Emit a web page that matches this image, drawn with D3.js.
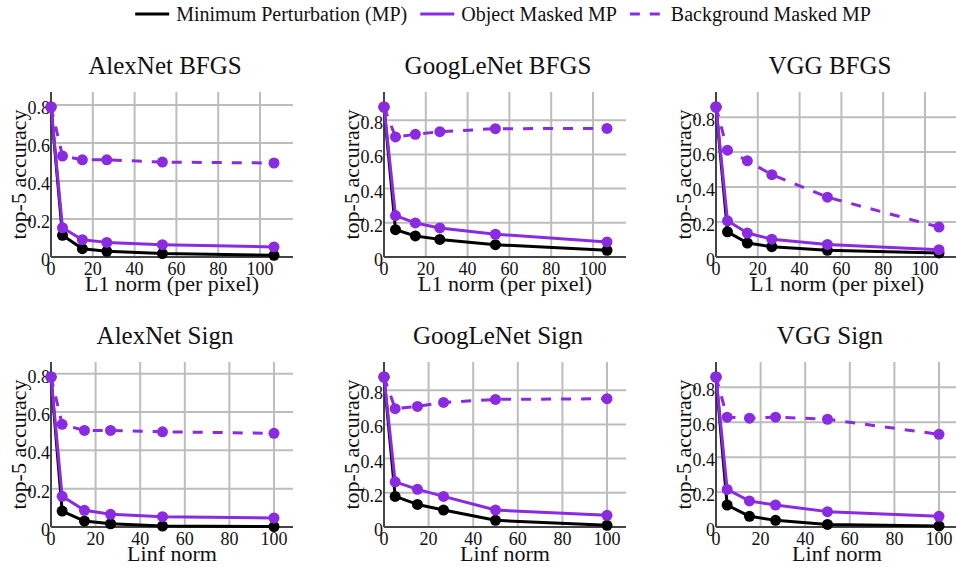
<!DOCTYPE html>
<html><head><meta charset="utf-8">
<script src="https://cdn.jsdelivr.net/npm/d3@7"></script>
<style>
html,body{margin:0;padding:0;background:#fff;}
</style></head>
<body><svg id="chart" width="956" height="567" font-family="'Liberation Serif', 'DejaVu Serif', serif"></svg>
<script>
// ---- data ----
const seriesNames = ["Minimum Perturbation (MP)", "Object Masked MP", "Background Masked MP"];
const seriesColors = ["#000000", "#8a2be2", "#8a2be2"];
const seriesDash = [null, null, "10,10"];

const xL1 = [0, 5.5, 15, 26.7, 53.3, 106.7];
const xLinf = [0, 5, 15, 26.7, 50, 100];

const panelTitles = ["AlexNet BFGS", "GoogLeNet BFGS", "VGG BFGS", "AlexNet Sign", "GoogLeNet Sign", "VGG Sign"];
const xAxisTitles = ["L1 norm (per pixel)", "Linf norm"];
const yAxisTitle = "top-5 accuracy";
const xTickValues = [0, 20, 40, 60, 80, 100];
const yTickValues = [0, 0.2, 0.4, 0.6, 0.8];

const alexBfgsMP  = [0.79, 0.114, 0.044, 0.030, 0.018, 0.009];
const alexBfgsObj = [0.79, 0.154, 0.091, 0.077, 0.065, 0.053];
const alexBfgsBg  = [0.79, 0.532, 0.512, 0.512, 0.500, 0.495];

const googBfgsMP  = [0.877, 0.160, 0.123, 0.103, 0.072, 0.039];
const googBfgsObj = [0.877, 0.242, 0.199, 0.170, 0.133, 0.088];
const googBfgsBg  = [0.877, 0.702, 0.717, 0.733, 0.750, 0.752];

const vggBfgsMP  = [0.858, 0.144, 0.080, 0.059, 0.038, 0.023];
const vggBfgsObj = [0.858, 0.207, 0.137, 0.102, 0.072, 0.042];
const vggBfgsBg  = [0.858, 0.611, 0.550, 0.471, 0.342, 0.171];

const alexSignMP  = [0.783, 0.083, 0.031, 0.017, 0.005, 0.002];
const alexSignObj = [0.783, 0.160, 0.087, 0.066, 0.054, 0.047];
const alexSignBg  = [0.783, 0.536, 0.504, 0.504, 0.497, 0.489];

const googSignMP  = [0.877, 0.179, 0.132, 0.099, 0.039, 0.010];
const googSignObj = [0.877, 0.264, 0.220, 0.179, 0.099, 0.068];
const googSignBg  = [0.877, 0.692, 0.705, 0.728, 0.746, 0.750];

const vggSignMP  = [0.859, 0.126, 0.061, 0.038, 0.015, 0.006];
const vggSignObj = [0.859, 0.215, 0.149, 0.126, 0.088, 0.061];
const vggSignBg  = [0.859, 0.629, 0.623, 0.629, 0.617, 0.531];

const panelData = [
  [alexBfgsMP, alexBfgsObj, alexBfgsBg],
  [googBfgsMP, googBfgsObj, googBfgsBg],
  [vggBfgsMP, vggBfgsObj, vggBfgsBg],
  [alexSignMP, alexSignObj, alexSignBg],
  [googSignMP, googSignObj, googSignBg],
  [vggSignMP, vggSignObj, vggSignBg]
];

// ---- layout ----
const svg = d3.select("#chart");
svg.append("rect").attr("width", 956).attr("height", 567).attr("fill", "#fff");

const colLeft = [51, 384, 716];
const rowTop = [92, 362];
const plotW = 242, plotH = 165;
const padPx = 15;
const textColor = "#111";

panelTitles.forEach((title, i) => {
  const col = i % 3, row = Math.floor(i / 3);
  const xs = row === 0 ? xL1 : xLinf;
  const series = panelData[i];
  const left = colLeft[col], top = rowTop[row];
  const xMax = d3.max(xs), yMax = d3.max(series.flat());
  const x = d3.scaleLinear().domain([0, xMax * plotW / (plotW - 19)]).range([left, left + plotW]);
  const y = d3.scaleLinear().domain([0, yMax * plotH / (plotH - padPx)]).range([top + plotH, top]);
  const g = svg.append("g");

  // gridlines
  g.selectAll(".gx").data(xTickValues.filter(v => v > 0)).join("line")
    .attr("x1", d => x(d)).attr("x2", d => x(d)).attr("y1", top).attr("y2", top + plotH)
    .attr("stroke", "#bdbdbd").attr("stroke-width", 2);
  g.selectAll(".gy").data(yTickValues.filter(v => v > 0)).join("line")
    .attr("y1", d => y(d)).attr("y2", d => y(d)).attr("x1", left).attr("x2", left + plotW)
    .attr("stroke", "#bdbdbd").attr("stroke-width", 2);

  // axes lines
  g.append("line").attr("x1", left).attr("x2", left).attr("y1", top).attr("y2", top + plotH)
    .attr("stroke", "#444").attr("stroke-width", 2);
  g.append("line").attr("x1", left).attr("x2", left + plotW).attr("y1", top + plotH).attr("y2", top + plotH)
    .attr("stroke", "#444").attr("stroke-width", 2);

  // tick labels
  g.selectAll(".ty").data(yTickValues).join("text")
    .attr("x", left - 1).attr("y", d => y(d) + 9)
    .attr("text-anchor", "end").attr("font-size", 18).attr("fill", textColor)
    .text(d => d === 0 ? "0" : d3.format(".1f")(d));
  g.selectAll(".tx").data(xTickValues).join("text")
    .attr("x", d => x(d)).attr("y", top + plotH + 18)
    .attr("text-anchor", "middle").attr("font-size", 18).attr("fill", textColor)
    .text(d => d);

  // series
  const line = d3.line().x((d, j) => x(xs[j])).y(d => y(d));
  series.forEach((vals, s) => {
    const sg = g.append("g");
    sg.append("path").attr("d", line(vals)).attr("fill", "none")
      .attr("stroke", seriesColors[s]).attr("stroke-width", 3)
      .attr("stroke-linejoin", "round")
      .attr("stroke-dasharray", seriesDash[s]);
    sg.selectAll("circle").data(vals).join("circle")
      .attr("cx", (d, j) => x(xs[j])).attr("cy", d => y(d)).attr("r", 5.5)
      .attr("fill", seriesColors[s]);
  });

  // titles
  g.append("text").attr("x", left + plotW / 2 - 7).attr("y", top - 18)
    .attr("text-anchor", "middle").attr("font-size", 25).attr("fill", textColor).text(title);
  g.append("text").attr("x", left + plotW / 2).attr("y", top + plotH + 34)
    .attr("text-anchor", "middle").attr("font-size", 22).attr("fill", textColor).text(xAxisTitles[row]);
  g.append("text").attr("transform", `translate(${left - 25},${top + plotH / 2}) rotate(-90)`)
    .attr("text-anchor", "middle").attr("font-size", 22).attr("fill", textColor).text(yAxisTitle);
});

// ---- legend ----
const legend = svg.append("g");
const items = [];
seriesNames.forEach((name, s) => {
  const ig = legend.append("g");
  ig.append("line").attr("x1", 0).attr("x2", 34).attr("y1", 14).attr("y2", 14)
    .attr("stroke", seriesColors[s]).attr("stroke-width", 3)
    .attr("stroke-dasharray", seriesDash[s]);
  const t = ig.append("text").attr("x", 41).attr("y", 21).attr("font-size", 20)
    .attr("fill", textColor).text(name);
  items.push({ g: ig, w: 41 + t.node().getComputedTextLength() });
});
const gap = 13;
const total = d3.sum(items, d => d.w) + gap * (items.length - 1);
let cx = 503 - total / 2;
items.forEach(it => { it.g.attr("transform", `translate(${cx},0)`); cx += it.w + gap; });
</script>
</body></html>
